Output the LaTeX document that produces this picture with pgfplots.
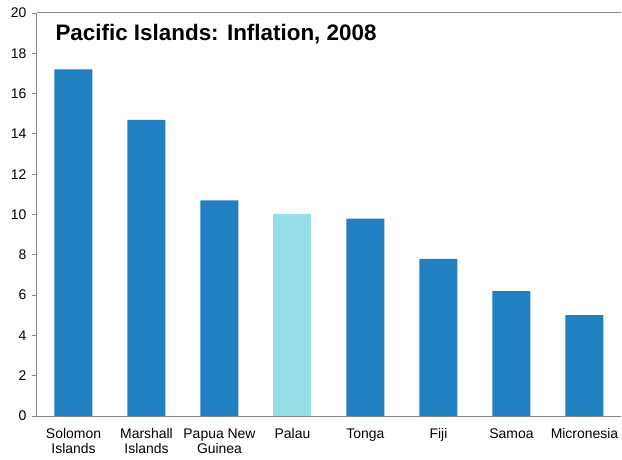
\documentclass[border=0pt]{standalone}
\usepackage{fontspec}
\setmainfont{Liberation Sans}
\usepackage{pgfplots}
\pgfplotsset{compat=1.18}
\definecolor{barblue}{RGB}{33,128,194}
\definecolor{palau}{RGB}{150,222,232}
\definecolor{axgray}{RGB}{134,134,134}
\begin{document}
\begin{tikzpicture}
\path[use as bounding box] (-37bp,-44bp) rectangle (585bp,416bp);
\begin{axis}[
  scale only axis,
  width=584bp, height=403bp,
  at={(0,0)}, anchor=south west,
  xmin=-0.5, xmax=7.5,
  ymin=0, ymax=20,
  ytick={0,2,...,20},
  xtick={0,...,7},
  xticklabels={{Solomon\\Islands},{Marshall\\Islands},{Papua New\\Guinea},Palau,Tonga,Fiji,Samoa,Micronesia},
  xticklabel style={align=center, font=\fontsize{14}{15}\selectfont, yshift=-4bp},
  yticklabel style={font=\fontsize{14}{15}\selectfont, xshift=-2bp},
  /pgf/number format/assume math mode=true,
  axis x line*=bottom,
  axis y line*=left,
  axis line style={axgray, line width=1bp},
  extra x ticks={-0.5,0.5,...,7.5},
  extra x tick labels={},
  extra x tick style={major tick length=5bp, tick style={axgray, line width=0.8bp}, xticklabel=\empty},
  major x tick style={draw=none},
  major tick length=5bp,
  y tick style={axgray, line width=0.8bp},
  tick align=outside,
  ybar, bar width=38bp,
  clip=false,
]
\addplot[fill=barblue, draw=none, bar shift=0pt] coordinates {(0,17.2) (1,14.7) (2,10.7) (4,9.8) (5,7.8) (6,6.2) (7,5.0)};
\addplot[fill=palau, draw=none, bar shift=0pt] coordinates {(3,10.0)};
\draw[axgray, line width=1bp] (rel axis cs:0,1) -- (rel axis cs:1,1);
\node[anchor=base west, font=\bfseries\fontsize{22.5}{26}\selectfont] at (rel axis cs:0,1) [xshift=15bp, yshift=-28bp] {Pacific Islands: Inflation, 2008};
\end{axis}
\end{tikzpicture}
\end{document}
